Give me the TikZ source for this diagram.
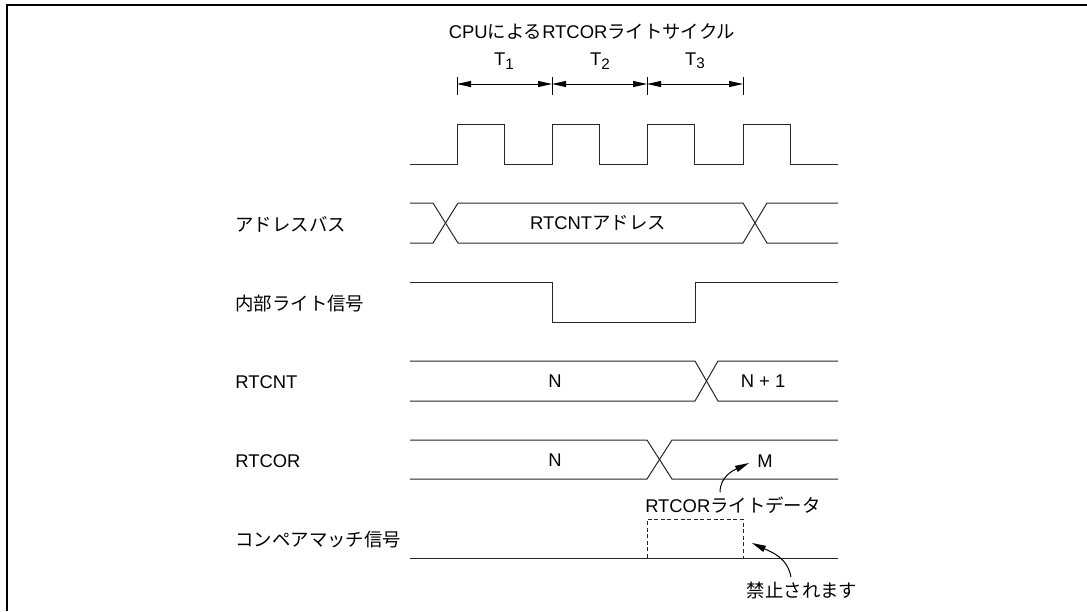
\documentclass[tikz,border=0pt]{standalone}
\usepackage{fontspec}
\setmainfont{Liberation Sans}
\newfontfamily\jp{Noto Sans CJK JP}
\usetikzlibrary{arrows.meta}
\newcommand{\tsub}[1]{T\raisebox{-0.35ex}{\fontsize{7.6}{8}\selectfont#1}}

\begin{document}
\begin{tikzpicture}[x=0.5pt,y=-0.5pt,font=\fontsize{9.2}{11}\selectfont,
 sig/.style={line width=0.5pt,line join=miter,black!85},
 span/.style={{Triangle[length=7pt,width=3pt]}-{Triangle[length=7pt,width=3pt]},line width=0.5pt},
 call/.style={-{Triangle[length=7pt,width=3.2pt]},line width=0.5pt},
 lbl/.style={anchor=west,inner sep=0pt},
 val/.style={inner sep=0pt}]
\useasboundingbox (0,0) rectangle (1087,611);
\draw[line width=1pt] (6.5,611) -- (6.5,5) -- (1087,5);
\node[val] (cyc) at (592,31) {CPU{\jp による}RTCOR{\jp ライトサイクル}};
\foreach \i/\x in {0/457,1/552,2/647,3/743} {
  \coordinate (t\i) at (\x,84);
  \draw[line width=0.5pt] (\x,77) -- (\x,95);
}
\draw[span] (t0) -- (t1);
\draw[span] (t1) -- (t2);
\draw[span] (t2) -- (t3);
\node[val] (T1) at (504,61) {\tsub{1}};
\node[val] (T2) at (600,61) {\tsub{2}};
\node[val] (T3) at (695,61) {\tsub{3}};
\draw[sig] (410,164) \foreach \x in {457,552,647,743} {-- (\x,164) -- (\x,124) -- (\x+47.5,124) -- (\x+47.5,164)} -- (838,164);
\node[lbl] (ab) at (235,224) {\jp アドレスバス};
\draw[sig] (410,203) -- (433,203) -- (458,243) -- (743,243) -- (767,203) -- (838,203);
\draw[sig] (410,243) -- (433,243) -- (458,203) -- (743,203) -- (767,243) -- (838,243);
\node[val] (abv) at (598,223) {RTCNT{\jp アドレス}};
\node[lbl] (wr) at (235,304) {\jp 内部ライト信号};
\draw[sig] (410,282) -- (552,282) -- (552,322) -- (695,322) -- (695,282) -- (838,282);
\node[lbl] (cnt) at (235,382) {RTCNT};
\draw[sig] (410,361) -- (695,361) -- (718,401) -- (838,401);
\draw[sig] (410,401) -- (695,401) -- (718,361) -- (838,361);
\node[val] (cn) at (555,381) {N};
\node[val] (cn1) at (763,381) {N + 1};
\node[lbl] (cor) at (235,461) {RTCOR};
\draw[sig] (410,440) -- (647,440) -- (672,479) -- (838,479);
\draw[sig] (410,479) -- (647,479) -- (672,440) -- (838,440);
\node[val] (on) at (555,460) {N};
\node[val] (om) at (765,461) {M};
\node[lbl] (cmp) at (235,540) {\jp コンペアマッチ信号};
\draw[sig] (410,558) -- (838,558);
\draw[sig,dash pattern=on 2pt off 1.3pt] (647,558) -- (647,519) -- (743,519) -- (743,558);
\node[inner sep=2pt] (wd) at (733,505) {RTCOR{\jp ライトデータ}};
\coordinate (mt) at (749,463);
\draw[call] ([xshift=-6.5pt]wd.north) to[out=90,in=205] (mt);
\node[inner sep=2pt] (ng) at (802,590) {\jp 禁止されます};
\coordinate (dt) at (752,543);
\draw[call] ([xshift=-5.5pt]ng.north) to[out=100,in=-25] (dt);
\end{tikzpicture}
\end{document}
